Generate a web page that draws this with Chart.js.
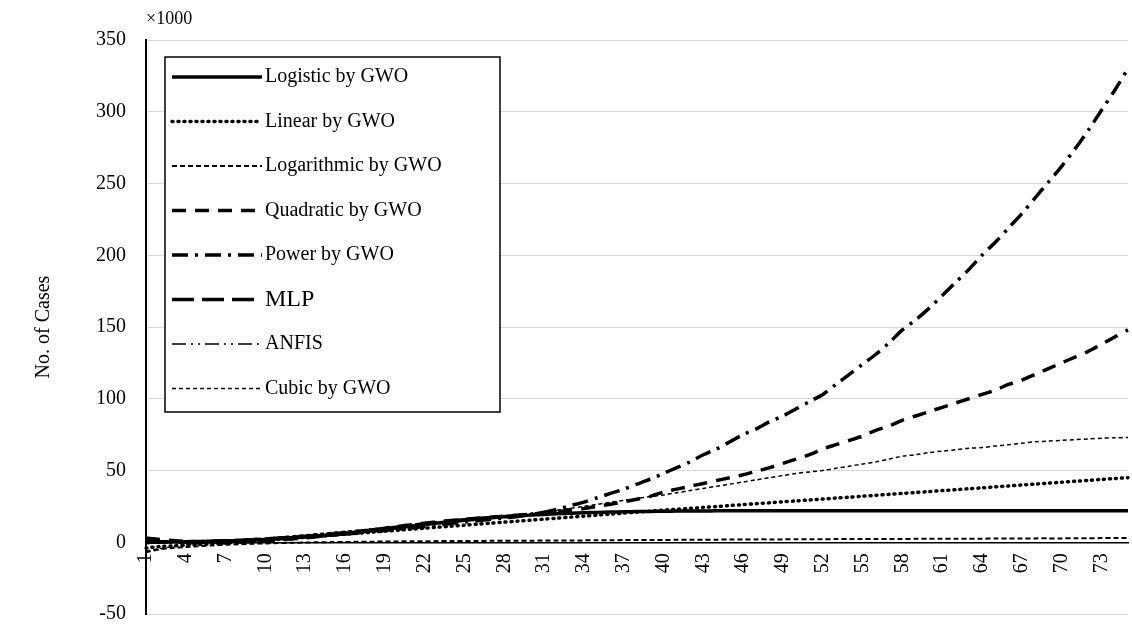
<!DOCTYPE html><html><head><meta charset="utf-8">
<script src="https://cdn.jsdelivr.net/npm/chart.js@4"></script>
<style>html,body{margin:0;background:#fff}#w{width:1132px;height:630px}</style></head><body><div id="w"><canvas id="c"></canvas></div>
<script>
const days = Array.from({length:75},(_,i)=>String(i+1));
const logistic = [0.1,0.2,0.3,0.4,0.5,0.7,0.9,1.2,1.5,1.9, 2.4,3.0,3.6,4.3,5.1,6.0,7.0,8.0,9.0,10.1, 11.2,12.3,13.4,14.4,15.3,16.2,17.0,17.7,18.3,18.9, 19.4,19.8,20.2,20.5,20.8,21.0,21.2,21.4,21.5,21.6, 21.7,21.8,21.8,21.9,21.9,22,22,22,22,22, 22,22,22,22,22,22,22,22,22,22, 22,22,22,22,22,22,22,22,22,22, 22,22,22,22,22];
const linear = [-4,-3,-2.5,-2,-1.5,-1,-0.5,0,0.7,1.4, 2.1,2.8,3.5,4.2,4.9,5.6,6.3,7,7.7,8.4, 9.1,9.8,10.5,11.2,11.9,12.6,13.3,14,14.7,15.4, 16.1,16.8,17.5,18.2,18.9,19.6,20.3,21,21.7,22.4, 23,23.6,24.3,24.9,25.6,26.2,26.9,27.5,28.2,28.8, 29.5,30.1,30.8,31.4,32.1,32.7,33.4,34,34.7,35.3, 36,36.6,37.3,37.9,38.6,39.2,39.9,40.5,41.2,41.8, 42.5,43.1,43.8,44.4,45];
const logarithmic = [-7,-5,-4,-3.3,-2.7,-2.2,-1.8,-1.4,-1.1,-0.8, -0.6,-0.4,-0.2,0,0.1,0.2,0.3,0.4,0.5,0.6, 0.7,0.7,0.8,0.8,0.9,0.9,1,1,1.1,1.1, 1.2,1.2,1.3,1.3,1.4,1.4,1.5,1.5,1.6,1.6, 1.7,1.7,1.8,1.8,1.9,1.9,2,2,2,2.1, 2.1,2.1,2.2,2.2,2.2,2.3,2.3,2.3,2.4,2.4, 2.4,2.5,2.5,2.5,2.6,2.6,2.6,2.7,2.7,2.7, 2.8,2.8,2.9,2.9,3];
const quadratic = [3,2,1.2,0.6,0.2,0,0,0.2,0.5,1, 1.6,2.3,3.1,4,5,6.1,7.3,8.5,9.8,11.1, 12.2,13.3,14.3,15.2,16,16.8,17.5,18.2,18.9,19.6, 20.4,21.3,22.3,23.5,25,26.5,28.2,30,32,35, 37,39,41,43,45,47,49.5,52,55,58, 61,65,68,71,74,78,81,85,88,91, 94,97,100,103,106,110,113,117,121,125, 129,133,138,143,148];
const power = [0,0.1,0.2,0.3,0.5,0.7,1,1.3,1.7,2.1, 2.6,3.1,3.7,4.3,5,5.7,6.5,7.3,8.2,9.1, 10,11,12,13,14,15,16,17,18,19.5, 21,23,25.5,28,31,34,37,40.5,44,48, 52,56,61,65,70,75,79,84,88,93, 98,103,110,117,124,131,139,148,155,163, 172,181,190,200,209,219,229,240,251,262, 274,287,301,315,330];
const cubic = [-6,-4.5,-3.2,-2,-1,-0.2,0.5,1.2,2,2.8, 3.6,4.4,5.2,6,6.8,7.6,8.4,9.2,10,10.8, 11.7,12.6,13.5,14.4,15.3,16.2,17.1,18,19,20, 21,22.3,23.6,25,26.4,27.8,29.2,30.5,31.8,33, 34.5,36,37.5,39,40.5,42,43.5,45,46.5,48, 49,50,51.5,53,54.5,56,58,60,61,62.5, 63.5,64.5,65.5,66,67,68,69,70,70.5,71, 71.5,72,72.5,72.8,73];
const mlp = [0.5,0.4,0.3,0.3,0.4,0.6,0.9,1.3,1.8,2.3, 2.9,3.5,4.2,5,5.8,6.7,7.6,8.6,9.6,10.7, 11.8,12.8,13.8,14.8,15.7,16.5,17.3,18,18.7,19.5, 20.4,21.5,22.8];
const anfis = [-1,-0.5,0,0.2,0.4,0.6,0.9,1.2,1.6,2.1, 2.7,3.3,4,4.8,5.6,6.5,7.4,8.4,9.4,10.5, 11.6,12.6,13.6,14.6,15.5,16.4,17.2,17.9,18.6,19.3, 20.1,21,22];
const yTicks = [-50,0,50,100,150,200,250,300,350];

const series = [
 {label:'Logistic by GWO', data:logistic, w:3.5, dash:[]},
 {label:'Linear by GWO', data:linear, w:3.5, dash:[1,5], cap:'round'},
 {label:'Logarithmic by GWO', data:logarithmic, w:2, dash:[5,3]},
 {label:'Quadratic by GWO', data:quadratic, w:3.5, dash:[14,9]},
 {label:'Power by GWO', data:power, w:3.5, dash:[16,7,3,7]},
 {label:'MLP', data:mlp, w:3.5, dash:[22,8]},
 {label:'ANFIS', data:anfis, w:1.5, dash:[14,5,2,5,2,5]},
 {label:'Cubic by GWO', data:cubic, w:1.5, dash:[4,3]}
];

const legendPlugin = {id:'lg', afterDraw(ch){
  const c=ch.ctx; c.save();
  c.strokeStyle='#000'; c.lineWidth=1.5; c.setLineDash([]);
  c.fillStyle='#fff'; c.fillRect(165,57,335,355);
  c.strokeRect(165,57,335,355);
  series.forEach((s,i)=>{
    const y=77+i*44.5;
    c.beginPath(); c.lineWidth=s.w; c.setLineDash(s.dash); c.lineCap=s.cap||'butt';
    c.moveTo(172,y); c.lineTo(262,y); c.stroke();
    c.setLineDash([]); c.fillStyle='#000';
    c.font=(s.label==='MLP'?'24px':'20px')+' "Liberation Serif"';
    c.textBaseline='middle'; c.fillText(s.label,265,y);
  });
  c.font='18px "Liberation Serif"'; c.textBaseline='alphabetic';
  c.fillText('×1000',146,24);
  c.restore();
}};

new Chart(document.getElementById('c'),{
 type:'line',
 data:{labels:days, datasets:series.map(s=>({label:s.label,data:s.data,borderColor:'#000',borderWidth:s.w,borderDash:s.dash,borderCapStyle:s.cap||'butt',pointRadius:0,tension:0.3,fill:false}))},
 options:{animation:false,responsive:true,maintainAspectRatio:false,
  layout:{padding:{top:40,right:4,bottom:16,left:28}},
  plugins:{legend:{display:false},tooltip:{enabled:false}},
  scales:{
   x:{position:{y:0},offset:false,grid:{display:false},border:{color:'#000',width:1.5},
      afterFit:s=>{s.height=0;s.paddingRight=0;s.paddingLeft=0;s.paddingTop=0;s.paddingBottom=0;},
      ticks:{autoSkip:false,maxRotation:90,minRotation:90,color:'#000',font:{family:'Liberation Serif',size:20},
        callback:(v,i)=> i%3===0 ? days[i] : ''}},
   y:{min:-50,max:350,afterBuildTicks:a=>{a.ticks=yTicks.map(v=>({value:v}));},
      afterFit:s=>{s.paddingTop=0;s.paddingBottom=0;},
      grid:{color:'#d9d9d9',drawTicks:false},border:{color:'#000',width:2},
      title:{display:true,text:'No. of Cases',color:'#000',font:{family:'Liberation Serif',size:20},padding:{bottom:20}},
      ticks:{color:'#000',font:{family:'Liberation Serif',size:20},padding:20}}
  }},
 plugins:[legendPlugin]});
</script></body></html>
